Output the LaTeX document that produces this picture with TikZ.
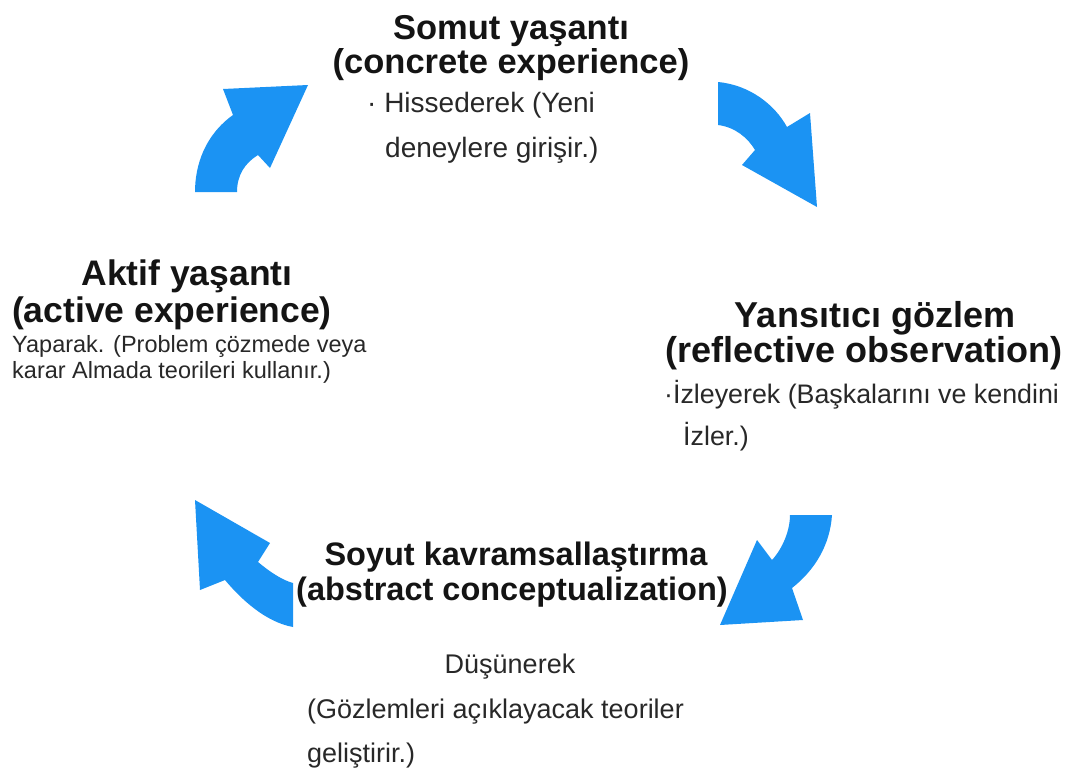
\documentclass[tikz,border=0pt]{standalone}
\usepackage{fontspec}
\setmainfont{Liberation Sans}
\definecolor{cycleblue}{RGB}{27,147,243}
\definecolor{txtgray}{RGB}{40,40,40}

\tikzset{
    stage/.style={anchor=base, inner sep=0pt, text=black!92, font=\bfseries\fontsize{#1}{#1}\selectfont},
    note/.style={anchor=base west, inner sep=0pt, text=txtgray, font=\fontsize{#1}{#1}\selectfont},
    cyclearrow/.style={fill=cycleblue, draw=none}
}

\begin{document}
\begin{tikzpicture}[x=1pt, y=-1pt]
    \useasboundingbox (0, 0) rectangle (1072, 774);

    \node[stage=34.5] (ce1) at (511, 39) {Somut yaşantı};
    \node[stage=34.5] (ce2) at (511, 73) {(concrete experience)};
    \node[note=28] (ce3) at (367, 112) {·\ Hissederek (Yeni};
    \node[note=28] (ce4) at (385, 157) {deneylere girişir.)};

    \node[stage=36] (ro1) at (875, 327) {Yansıtıcı gözlem};
    \node[stage=36] (ro2) at (864, 362) {(reflective observation)};
    \node[note=26.8] (ro3) at (664, 403) {·İzleyerek (Başkalarını ve kendini};
    \node[note=26.8] (ro4) at (683, 445) {İzler.)};

    \node[stage=32.5] (ac1) at (516, 565) {Soyut kavramsallaştırma};
    \node[stage=32.5] (ac2) at (512, 600) {(abstract conceptualization)};
    \node[note=27, anchor=base] (ac3) at (510, 673) {Düşünerek};
    \node[note=27] (ac4) at (307, 718) {(Gözlemleri açıklayacak teoriler};
    \node[note=27] (ac5) at (307, 762) {geliştirir.)};

    \node[stage=35.5] (ae1) at (187, 285) {Aktif yaşantı};
    \node[stage=35.5] (ae2) at (172, 322) {(active experience)};
    \node[note=23.5] (ae3) at (12, 352) {Yaparak. (Problem çözmede veya};
    \node[note=23.5] (ae4) at (12, 378) {karar Almada teorileri kullanır.)};

    \fill[cyclearrow] (195, 192) -- (237, 192) .. controls (237, 175) and (245, 163) .. (258, 155)
        -- (270, 168) -- (308, 85) -- (223, 89) -- (233, 115)
        .. controls (205, 135) and (195, 165) .. (195, 192) -- cycle;
    \fill[cyclearrow] (718, 82) .. controls (750, 85) and (775, 105) .. (787, 127)
        -- (810, 113) -- (817, 207) -- (742, 165) -- (755, 150)
        .. controls (748, 138) and (735, 127) .. (718, 125) -- cycle;
    \fill[cyclearrow] (832, 515) .. controls (830, 545) and (815, 570) .. (792, 588)
        -- (803, 620) -- (720, 625) -- (757, 540) -- (772, 560)
        .. controls (783, 548) and (790, 530) .. (790, 515) -- cycle;
    \fill[cyclearrow] (293, 583) -- (293, 627) .. controls (265, 622) and (240, 598) .. (225, 580)
        -- (200, 590) -- (195, 500) -- (270, 543) -- (258, 562)
        .. controls (270, 572) and (282, 580) .. (293, 583) -- cycle;
\end{tikzpicture}
\end{document}
